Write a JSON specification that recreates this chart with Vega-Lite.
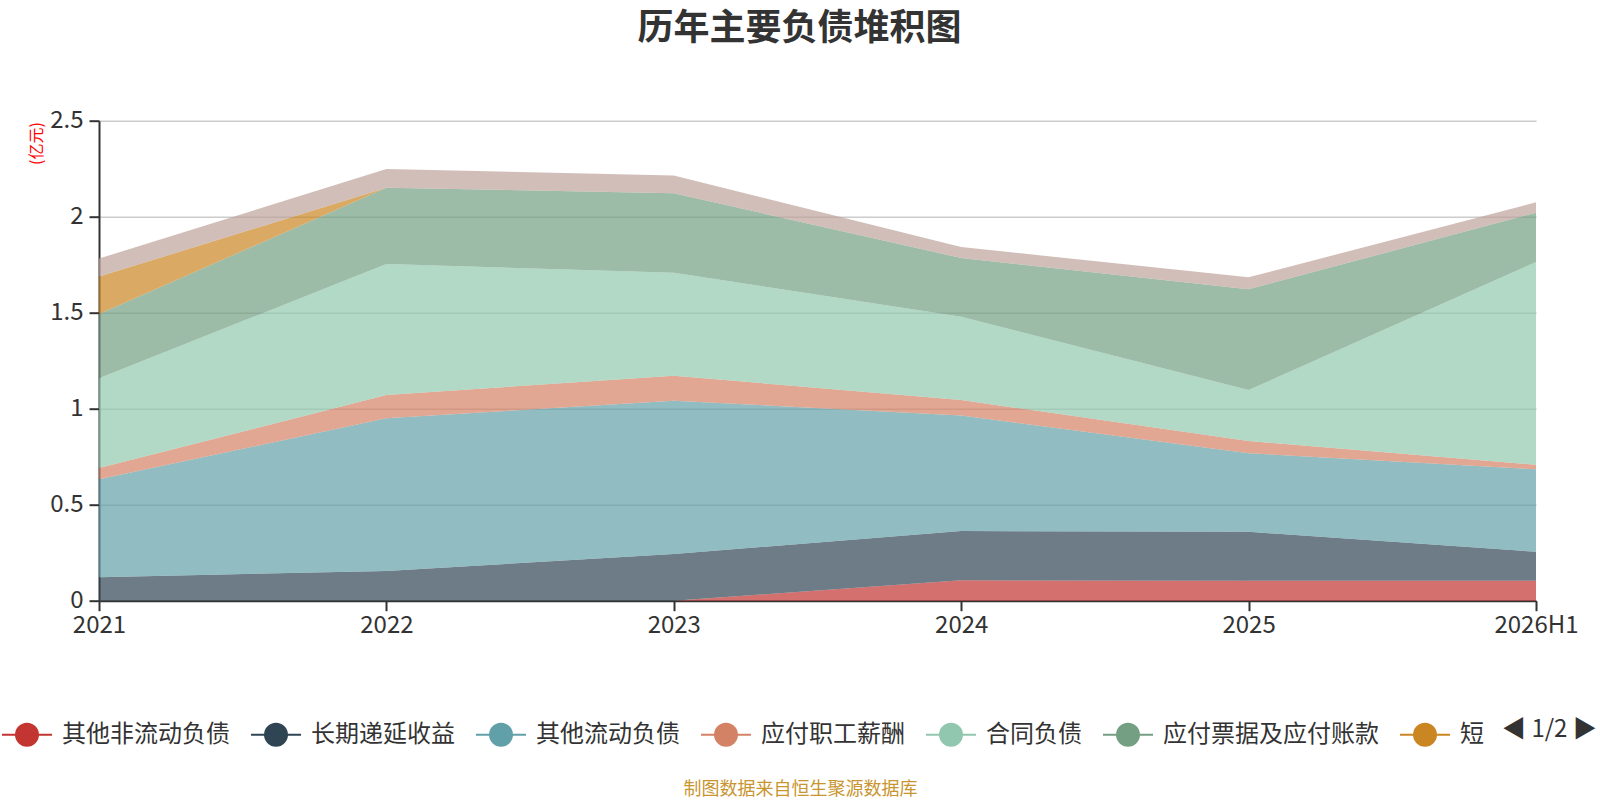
{
  "$schema": "https://vega.github.io/schema/vega-lite/v6.json",
  "width": 1437,
  "height": 480,
  "autosize": {"type": "none"},
  "padding": {"left": 99, "top": 120.7, "right": 64, "bottom": 199.3},
  "background": "white",
  "title": {
    "text": "历年主要负债堆积图",
    "fontSize": 36,
    "fontWeight": "bold",
    "color": "#333333",
    "font": "Noto Sans CJK SC",
    "anchor": "middle",
    "frame": "group",
    "dx": -18,
    "offset": 61
  },
  "data": {
    "values": [
      {"year": "2021", "name": "其他非流动负债", "value": 0, "o": 1},
      {"year": "2022", "name": "其他非流动负债", "value": 0, "o": 1},
      {"year": "2023", "name": "其他非流动负债", "value": 0, "o": 1},
      {"year": "2024", "name": "其他非流动负债", "value": 0.106, "o": 1},
      {"year": "2025", "name": "其他非流动负债", "value": 0.104, "o": 1},
      {"year": "2026H1", "name": "其他非流动负债", "value": 0.104, "o": 1},
      {"year": "2021", "name": "长期递延收益", "value": 0.122, "o": 2},
      {"year": "2022", "name": "长期递延收益", "value": 0.155, "o": 2},
      {"year": "2023", "name": "长期递延收益", "value": 0.243, "o": 2},
      {"year": "2024", "name": "长期递延收益", "value": 0.257, "o": 2},
      {"year": "2025", "name": "长期递延收益", "value": 0.255, "o": 2},
      {"year": "2026H1", "name": "长期递延收益", "value": 0.151, "o": 2},
      {"year": "2021", "name": "其他流动负债", "value": 0.510, "o": 3},
      {"year": "2022", "name": "其他流动负债", "value": 0.795, "o": 3},
      {"year": "2023", "name": "其他流动负债", "value": 0.799, "o": 3},
      {"year": "2024", "name": "其他流动负债", "value": 0.601, "o": 3},
      {"year": "2025", "name": "其他流动负债", "value": 0.409, "o": 3},
      {"year": "2026H1", "name": "其他流动负债", "value": 0.429, "o": 3},
      {"year": "2021", "name": "应付职工薪酬", "value": 0.059, "o": 4},
      {"year": "2022", "name": "应付职工薪酬", "value": 0.121, "o": 4},
      {"year": "2023", "name": "应付职工薪酬", "value": 0.130, "o": 4},
      {"year": "2024", "name": "应付职工薪酬", "value": 0.081, "o": 4},
      {"year": "2025", "name": "应付职工薪酬", "value": 0.064, "o": 4},
      {"year": "2026H1", "name": "应付职工薪酬", "value": 0.024, "o": 4},
      {"year": "2021", "name": "合同负债", "value": 0.467, "o": 5},
      {"year": "2022", "name": "合同负债", "value": 0.683, "o": 5},
      {"year": "2023", "name": "合同负债", "value": 0.536, "o": 5},
      {"year": "2024", "name": "合同负债", "value": 0.434, "o": 5},
      {"year": "2025", "name": "合同负债", "value": 0.265, "o": 5},
      {"year": "2026H1", "name": "合同负债", "value": 1.056, "o": 5},
      {"year": "2021", "name": "应付票据及应付账款", "value": 0.335, "o": 6},
      {"year": "2022", "name": "应付票据及应付账款", "value": 0.397, "o": 6},
      {"year": "2023", "name": "应付票据及应付账款", "value": 0.414, "o": 6},
      {"year": "2024", "name": "应付票据及应付账款", "value": 0.306, "o": 6},
      {"year": "2025", "name": "应付票据及应付账款", "value": 0.525, "o": 6},
      {"year": "2026H1", "name": "应付票据及应付账款", "value": 0.257, "o": 6},
      {"year": "2021", "name": "短期借款", "value": 0.195, "o": 7},
      {"year": "2022", "name": "短期借款", "value": 0, "o": 7},
      {"year": "2023", "name": "短期借款", "value": 0, "o": 7},
      {"year": "2024", "name": "短期借款", "value": 0, "o": 7},
      {"year": "2025", "name": "短期借款", "value": 0, "o": 7},
      {"year": "2026H1", "name": "短期借款", "value": 0, "o": 7},
      {"year": "2021", "name": "应交税费", "value": 0.094, "o": 8},
      {"year": "2022", "name": "应交税费", "value": 0.097, "o": 8},
      {"year": "2023", "name": "应交税费", "value": 0.093, "o": 8},
      {"year": "2024", "name": "应交税费", "value": 0.057, "o": 8},
      {"year": "2025", "name": "应交税费", "value": 0.062, "o": 8},
      {"year": "2026H1", "name": "应交税费", "value": 0.054, "o": 8}
    ]
  },
  "mark": {"type": "area", "opacity": 0.7},
  "encoding": {
    "x": {
      "field": "year",
      "type": "ordinal",
      "sort": null,
      "scale": {"type": "point", "padding": 0},
      "axis": {
        "labelAngle": 0,
        "labelFontSize": 24,
        "labelColor": "#333333",
        "labelFont": "Noto Sans CJK SC",
        "labelPadding": 3,
        "domainColor": "#333333",
        "domainWidth": 2,
        "tickColor": "#333333",
        "tickWidth": 2,
        "tickSize": 10,
        "grid": false,
        "title": "制图数据来自恒生聚源数据库",
        "titleColor": "#c8952f",
        "titleFont": "Noto Sans CJK SC",
        "titleFontSize": 18,
        "titleFontWeight": "normal",
        "titleX": 701,
        "titleY": 189,
        "titleAlign": "center",
        "titleBaseline": "middle"
      }
    },
    "y": {
      "field": "value",
      "type": "quantitative",
      "stack": "zero",
      "scale": {"domain": [0, 2.5], "nice": false},
      "axis": {
        "values": [0, 0.5, 1, 1.5, 2, 2.5],
        "format": "~g",
        "labelFontSize": 24,
        "labelColor": "#333333",
        "labelFont": "Noto Sans CJK SC",
        "labelPadding": 6,
        "grid": true,
        "gridColor": "#cccccc",
        "gridWidth": 1.5,
        "domainColor": "#333333",
        "domainWidth": 2,
        "tickColor": "#333333",
        "tickWidth": 2,
        "tickSize": 10,
        "title": "(亿元)",
        "titleColor": "#ff0000",
        "titleFont": "Noto Sans CJK SC",
        "titleFontSize": 16,
        "titleFontWeight": "normal",
        "titleAngle": -90,
        "titleX": -62.5,
        "titleY": 1,
        "titleAlign": "right",
        "titleBaseline": "middle"
      }
    },
    "color": {
      "field": "name",
      "type": "nominal",
      "scale": {
        "domain": ["其他非流动负债", "长期递延收益", "其他流动负债", "应付职工薪酬", "合同负债", "应付票据及应付账款", "短期借款", "应交税费"],
        "range": ["#c23531", "#2f4554", "#61a0a8", "#d48265", "#91c7ae", "#749f83", "#ca8622", "#bda29a"]
      },
      "legend": {
        "orient": "none",
        "legendX": -98,
        "legendY": 588,
        "direction": "horizontal",
        "values": ["其他非流动负债", "长期递延收益", "其他流动负债", "应付职工薪酬", "合同负债", "应付票据及应付账款", "短期借款"],
        "labelExpr": "datum.label == '短期借款' ? '短' : datum.label",
        "symbolType": "M-1,0L1,0M0.44,0A0.44,0.44,0,1,1,-0.44,0A0.44,0.44,0,1,1,0.44,0Z",
        "symbolSize": 2500,
        "symbolStrokeWidth": 2,
        "symbolOpacity": 1,
        "labelFontSize": 24,
        "labelColor": "#333333",
        "labelFont": "Noto Sans CJK SC",
        "labelOffset": 9,
        "labelLimit": 0,
        "columnPadding": 17,
        "padding": 0,
        "title": "◀ 1/2 ▶",
        "titleOrient": "right",
        "titleFontSize": 24,
        "titleColor": "#333333",
        "titleFont": "Noto Sans CJK SC",
        "titleFontWeight": "normal",
        "titlePadding": 18,
        "titleAnchor": "middle",
        "titleBaseline": "middle",
        "encode": {
          "symbols": {"update": {"stroke": {"scale": "color", "field": "value"}}}
        }
      }
    },
    "order": {"field": "o", "type": "quantitative"}
  },
  "config": {
    "view": {"stroke": null},
    "font": "Noto Sans CJK SC"
  }
}
